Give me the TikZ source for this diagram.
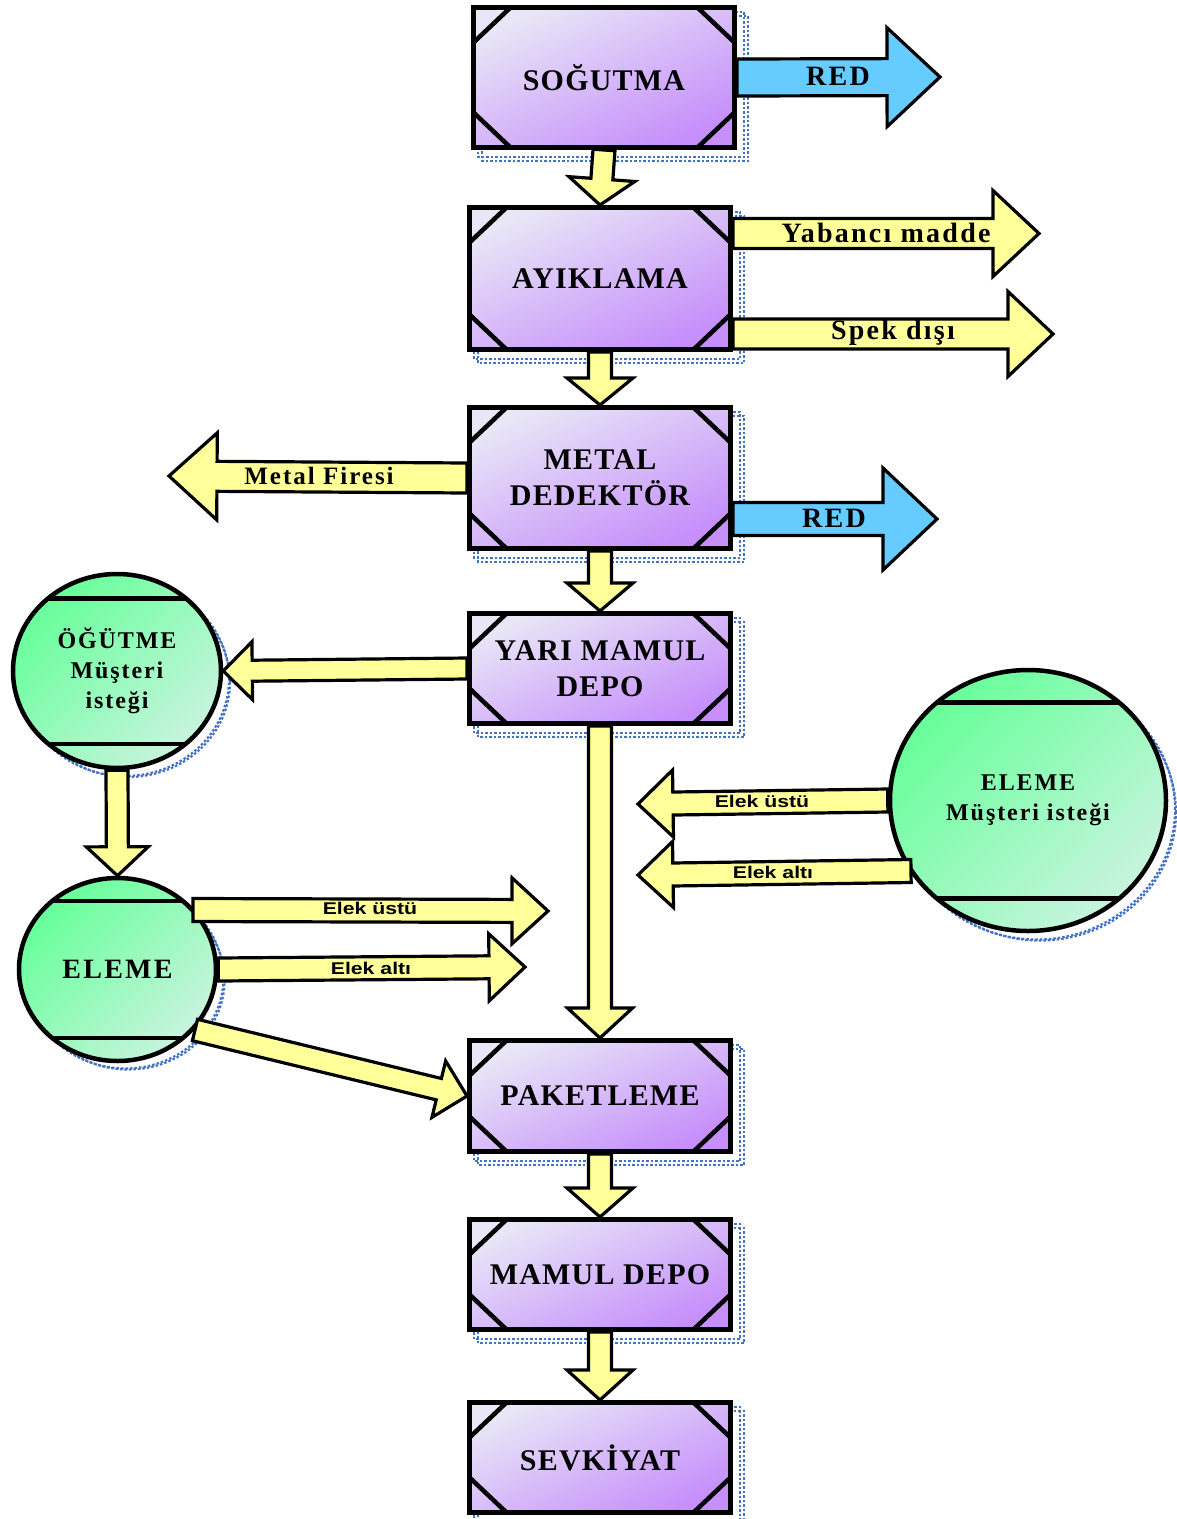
\documentclass[tikz,border=0pt]{standalone}
\usepackage{fontspec}
\setmainfont{Liberation Serif}
\newfontfamily\bxf[LetterSpace=4]{Liberation Serif}
\newfontfamily\lbf[LetterSpace=8]{Liberation Serif}
\newfontfamily\elf[FakeStretch=1.25]{Liberation Sans}
\usetikzlibrary{calc,shapes.geometric,backgrounds}
\pgfdeclarelayer{arrowlayer}
\pgfsetlayers{background,arrowlayer,main}
\definecolor{plight}{HTML}{E8E6F7}
\definecolor{pmid}{HTML}{D0A6F9}
\definecolor{pdark}{HTML}{C68FFB}
\definecolor{cgreen}{HTML}{66FF99}
\definecolor{clight}{HTML}{C8F4DE}
\definecolor{cyellow}{HTML}{FFFF99}
\definecolor{cblue}{HTML}{66CCFF}
\definecolor{shblue}{HTML}{4472C4}
\newcommand\blkarrow[6]{%
  \coordinate (ba-h) at ($(#3)!#6pt!(#2)$);
  \draw[#1] ($(#2)!#4pt!90:(#3)$) -- ($(ba-h)!#4pt!90:(#3)$) -- ($(ba-h)!#5pt!90:(#3)$) -- (#3)
    -- ($(ba-h)!#5pt!-90:(#3)$) -- ($(ba-h)!#4pt!-90:(#3)$) -- ($(#2)!#4pt!-90:(#3)$) -- cycle;
}
\tikzset{
  pbox/.style={draw, line width=5pt, top color=plight, middle color=pmid, bottom color=pdark,
    shading angle=25, minimum width=261pt, inner sep=0pt, align=center,
    font=\bxf\bfseries\fontsize{30}{36}\selectfont,
    path picture={
      \draw[line width=4.5pt] ([xshift=37pt]path picture bounding box.north west) -- ([yshift=-35pt]path picture bounding box.north west);
      \draw[line width=4.5pt] ([xshift=-37pt]path picture bounding box.north east) -- ([yshift=-35pt]path picture bounding box.north east);
      \draw[line width=4.5pt] ([xshift=37pt]path picture bounding box.south west) -- ([yshift=35pt]path picture bounding box.south west);
      \draw[line width=4.5pt] ([xshift=-37pt]path picture bounding box.south east) -- ([yshift=35pt]path picture bounding box.south east);
    }},
  gcirc/.style={ellipse, draw, line width=4.5pt, top color=cgreen, middle color=cgreen!88!clight, bottom color=clight,
    shading angle=45, inner sep=0pt, align=center,
    path picture={
      \draw[line width=4.5pt] ($(path picture bounding box.north west)!0.125!(path picture bounding box.south west)$) -- ($(path picture bounding box.north east)!0.125!(path picture bounding box.south east)$);
      \draw[line width=4.5pt] ($(path picture bounding box.north west)!0.875!(path picture bounding box.south west)$) -- ($(path picture bounding box.north east)!0.875!(path picture bounding box.south east)$);
    }},
  yarrow/.style={draw, line width=3.2pt, fill=cyellow, line join=miter},
  barrow/.style={draw, line width=3.2pt, fill=cblue, line join=miter},
  shd/.style={draw=shblue, line width=2.2pt, dash pattern=on 2.5pt off 2pt},
  alab/.style={font=\lbf\bfseries\fontsize{28}{30}\selectfont, inner sep=0pt},
  elab/.style={font=\elf\bfseries\fontsize{17}{20}\selectfont, inner sep=0pt},
}
\begin{document}
\begin{tikzpicture}[x=1pt,y=-1pt]
\useasboundingbox (0,0) rectangle (1177,1519);
% process boxes
\node[pbox, minimum height=140pt] (sog) at (604,77.5) {SOĞUTMA};
\node[pbox, minimum height=142pt] (ayk) at (600,278.5) {AYIKLAMA};
\node[pbox, minimum height=141pt] (met) at (600,478) {METAL\\DEDEKTÖR};
\node[pbox, minimum height=110pt] (yari) at (600,668.5) {YARI MAMUL\\DEPO};
\node[pbox, minimum height=111pt] (pak) at (600,1096) {PAKETLEME};
\node[pbox, minimum height=110pt] (mam) at (600,1274.5) {MAMUL DEPO};
\node[pbox, minimum height=110pt] (sev) at (600,1457.5) {SEVKİYAT};
% circles
\node[gcirc, minimum width=208pt, minimum height=194pt, font=\lbf\bfseries\fontsize{24}{30}\selectfont] (ogt) at (117,671) {ÖĞÜTME\\Müşteri\\isteği};
\node[gcirc, minimum width=197pt, minimum height=183pt, font=\lbf\bfseries\fontsize{28}{30}\selectfont] (elm) at (117.5,969.5) {ELEME};
\node[gcirc, minimum width=276pt, minimum height=261pt, font=\lbf\bfseries\fontsize{24}{30}\selectfont] (emc) at (1028,800.5) {ELEME\\Müşteri isteği};
% dotted shadows
\begin{scope}[on background layer]
  \foreach \n in {sog,ayk,met,yari,pak,mam,sev}{
    \draw[shd] ([shift={(7pt,-7pt)}]\n.north west) rectangle ([shift={(7pt,-7pt)}]\n.south east);
    \draw[shd] ([shift={(11pt,-11pt)}]\n.north west) rectangle ([shift={(11pt,-11pt)}]\n.south east);
  }
  \draw[shd] ([shift={(8pt,-8pt)}]ogt.center) ellipse [x radius=104pt, y radius=97pt];
  \draw[shd] ([shift={(11pt,-11pt)}]ogt.center) ellipse [x radius=102pt, y radius=95pt];
  \draw[shd] ([shift={(8pt,-8pt)}]elm.center) ellipse [x radius=98pt, y radius=91pt];
  \draw[shd] ([shift={(11pt,-11pt)}]elm.center) ellipse [x radius=96pt, y radius=89pt];
  \draw[shd] ([shift={(9pt,-9pt)}]emc.center) ellipse [x radius=138pt, y radius=130pt];
  \draw[shd] ([shift={(12pt,-12pt)}]emc.center) ellipse [x radius=136pt, y radius=128pt];
\end{scope}
% coordinates for free arrow ends
\coordinate (r1) at (940,77);
\coordinate (ya) at (1039,233.5);
\coordinate (yas) at (ayk.east |- ya);
\coordinate (sd) at (1053,334);
\coordinate (sds) at (ayk.east |- sd);
\coordinate (mf) at (169,476);
\coordinate (r2) at (937,519);
\coordinate (r2s) at (met.east |- r2);
\coordinate (eu1s) at (193,910);
\coordinate (eu1) at (548,911);
\coordinate (ea1) at (525,967);
\coordinate (dgs) at (195,1030);
\coordinate (eu2) at (638,804);
\coordinate (ea2s) at (911,871);
\coordinate (ea2) at (638,875);
% arrows attached to boxes (behind boxes)
\begin{pgfonlayer}{arrowlayer}
\blkarrow{barrow}{sog.east}{r1}{18.5}{49.5}{53}
\blkarrow{yarrow}{sog.south}{ayk.north}{11}{33}{26}
\blkarrow{yarrow}{yas}{ya}{15}{43}{46}
\blkarrow{yarrow}{sds}{sd}{15}{42.5}{45}
\blkarrow{yarrow}{ayk.south}{met.north}{11.5}{33}{27}
\blkarrow{yarrow}{met.west}{mf}{15}{43.5}{48}
\blkarrow{barrow}{r2s}{r2}{16.5}{51}{54}
\blkarrow{yarrow}{met.south}{yari.north}{11.5}{33}{28}
\blkarrow{yarrow}{yari.west}{ogt.east}{10.5}{29}{29}
\blkarrow{yarrow}{yari.south}{pak.north}{11.5}{32.5}{30}
\blkarrow{yarrow}{pak.south}{mam.north}{11.5}{33}{29}
\blkarrow{yarrow}{mam.south}{sev.north}{11.5}{33}{30}
\end{pgfonlayer}
% arrows over circles
\blkarrow{yarrow}{ogt.south}{elm.north}{11}{31}{29}
\blkarrow{yarrow}{eu1s}{eu1}{11.5}{33}{36}
\blkarrow{yarrow}{elm.east}{ea1}{11.5}{33.5}{36}
\blkarrow{yarrow}{dgs}{pak.west}{11}{29}{29}
\blkarrow{yarrow}{emc.west}{eu2}{11.5}{33.5}{35}
\blkarrow{yarrow}{ea2s}{ea2}{11.5}{33}{35}
% labels
\node[alab] (l1) at (838,76) {RED};
\node[alab] (l2) at (886,233) {Yabancı madde};
\node[alab] (l3) at (893,333) {Spek dışı};
\node[alab, font=\lbf\bfseries\fontsize{25}{28}\selectfont] (l4) at (319,476) {Metal Firesi};
\node[alab] (l5) at (834,518) {RED};
\node[elab] (l6) at (370,908) {Elek üstü};
\node[elab] (l7) at (371,968) {Elek altı};
\node[elab] (l8) at (762,801) {Elek üstü};
\node[elab] (l9) at (773,872) {Elek altı};
\end{tikzpicture}
\end{document}
